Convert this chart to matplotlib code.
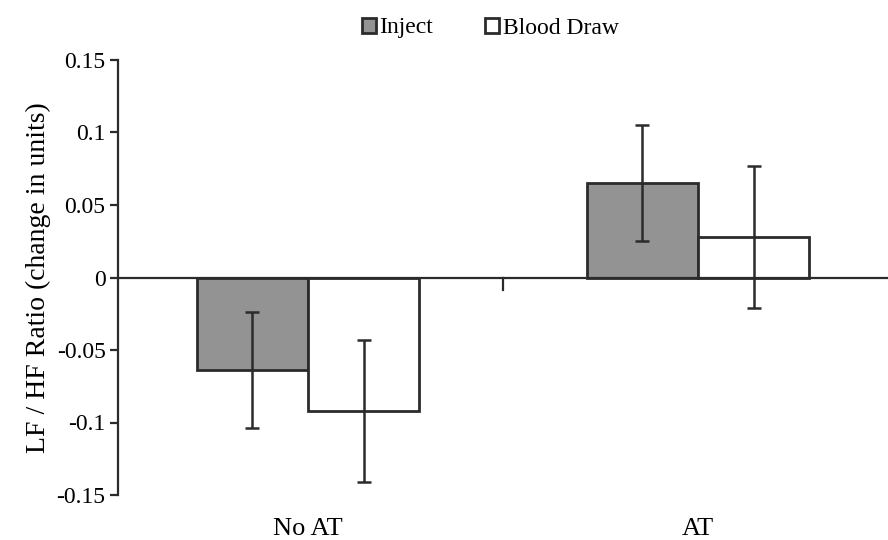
import numpy as np
import matplotlib
matplotlib.use("Agg")
import matplotlib.pyplot as plt

plt.rcParams["font.family"] = ["Liberation Serif", "DejaVu Serif"]

conditions = ["No AT", "AT"]
series = ["Inject", "Blood Draw"]
inject_vals = [-0.064, 0.065]
inject_err = [0.040, 0.040]
blood_vals = [-0.092, 0.028]
blood_err = [0.049, 0.049]
yticks = [0.15, 0.1, 0.05, 0, -0.05, -0.1, -0.15]
ytick_labels = ["0.15", "0.1", "0.05", "0", "-0.05", "-0.1", "-0.15"]

fig = plt.figure(figsize=(8.88, 5.40), dpi=100)
ax = fig.add_axes([118 / 888, 45 / 540, 770 / 888, 435 / 540])

x = np.arange(len(conditions))
w = 0.285
edge = "#2b2b2b"
err_kw = dict(ecolor=edge, elinewidth=1.8, capsize=5, capthick=1.8)

ax.bar(x - w / 2, inject_vals, w, color="#939393", edgecolor=edge, linewidth=2,
       yerr=inject_err, error_kw=err_kw, label=series[0], zorder=2)
ax.bar(x + w / 2, blood_vals, w, color="white", edgecolor=edge, linewidth=2,
       yerr=blood_err, error_kw=err_kw, label=series[1], zorder=2)

ax.set_xlim(-0.487, 1.487)
ax.set_ylim(-0.15, 0.15)

# axes frame: only the left spine plus a horizontal zero line
for s in ["top", "right", "bottom"]:
    ax.spines[s].set_visible(False)
ax.spines["left"].set_linewidth(1.6)
ax.spines["left"].set_color(edge)
ax.axhline(0, color=edge, linewidth=1.6, zorder=3)

ax.set_yticks(yticks)
ax.set_yticklabels(ytick_labels, fontsize=17)
ax.tick_params(axis="y", direction="out", length=6, width=1.6, color=edge, pad=3)
ax.set_xticks([])

# small tick on the zero line between the two groups
ax.plot([0.5, 0.5], [0, -0.0085], color=edge, linewidth=1.6, zorder=3)

for xi, name in zip(x, conditions):
    ax.text(xi, -0.1658, name, ha="center", va="top", fontsize=19)

ax.set_ylabel("LF / HF Ratio (change in units)", fontsize=20, labelpad=4)

fig.legend(loc="center", bbox_to_anchor=(490 / 888, 1 - 28 / 540), ncol=2,
           frameon=False, fontsize=17, handlelength=0.6, handleheight=0.6,
           handletextpad=0.15, columnspacing=2.2)

fig.savefig("out.png", dpi=100)
